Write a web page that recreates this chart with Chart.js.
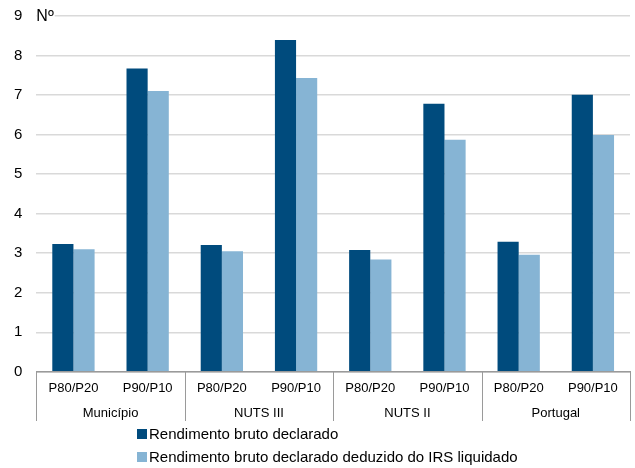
<!DOCTYPE html>
<html>
<head>
<meta charset="utf-8">
<script src="https://cdn.jsdelivr.net/npm/chart.js@4/dist/chart.umd.min.js"></script>
<style>
  html, body { margin: 0; padding: 0; background: #fff; }
  #wrap { position: relative; width: 635px; height: 468px; }
  #legend { position: absolute; left: 137px; top: 422px; font-family: "Liberation Sans", Arial, sans-serif; font-size: 15px; color: #000; }
  #legend div { height: 23px; line-height: 23px; white-space: nowrap; }
  #legend span.box { display: inline-block; width: 10px; height: 10px; margin-right: 2px; vertical-align: 0px; }
</style>
</head>
<body>
<div id="wrap">
  <canvas id="c" width="635" height="468"></canvas>
  <div id="legend"></div>
</div>
<script>
const categories = ['P80/P20', 'P90/P10', 'P80/P20', 'P90/P10', 'P80/P20', 'P90/P10', 'P80/P20', 'P90/P10'];
const groups = ['Município', 'NUTS III', 'NUTS II', 'Portugal'];
const seriesNames = ['Rendimento bruto declarado', 'Rendimento bruto declarado deduzido do IRS liquidado'];
const brutoValues = [3.23, 7.67, 3.21, 8.39, 3.08, 6.78, 3.29, 7.01];
const liquidoValues = [3.10, 7.10, 3.05, 7.43, 2.84, 5.87, 2.96, 5.99];
const yTicks = [0, 1, 2, 3, 4, 5, 6, 7, 8, 9];
const colors = ['#004B7D', '#86B4D4'];

const FONT = '"Liberation Sans", Arial, sans-serif';

const overlay = {
  id: 'overlay',
  afterDraw(chart) {
    const ctx = chart.ctx;
    const xs = chart.scales.x;
    const x2 = chart.scales.x2;
    const ca = chart.chartArea;
    ctx.save();
    ctx.strokeStyle = '#9a9a9a';
    ctx.lineWidth = 1;
    const n = groups.length;
    for (let k = 0; k <= n; k++) {
      const x = Math.round(xs.left + k * (xs.width / n)) + 0.5;
      ctx.beginPath();
      ctx.moveTo(x, ca.bottom);
      ctx.lineTo(x, x2.bottom);
      ctx.stroke();
    }
    ctx.font = '16px ' + FONT;
    ctx.textBaseline = 'middle';
    ctx.textAlign = 'left';
    const ys = chart.scales.y;
    const yTop = ys.getPixelForValue(9);
    const w = ctx.measureText('Nº').width;
    ctx.fillStyle = '#fff';
    ctx.fillRect(ca.left, yTop - 3, w + 1, 6);
    ctx.fillStyle = '#000';
    ctx.fillText('Nº', ca.left, yTop + 1);
    ctx.restore();
  }
};

const chart = new Chart(document.getElementById('c'), {
  type: 'bar',
  data: {
    labels: categories,
    datasets: [
      { label: seriesNames[0], data: brutoValues, backgroundColor: colors[0], borderWidth: 0 },
      { label: seriesNames[1], data: liquidoValues, backgroundColor: colors[1], borderWidth: 0 }
    ]
  },
  options: {
    responsive: false,
    animation: false,
    devicePixelRatio: 1,
    layout: { padding: { left: 0, right: 5, top: 16, bottom: 47 } },
    plugins: {
      legend: { display: false },
      tooltip: { enabled: false }
    },
    datasets: { bar: { categoryPercentage: 0.57, barPercentage: 1.0 } },
    scales: {
      x: {
        type: 'category',
        grid: { display: false, drawTicks: false, tickLength: 0 },
        border: { display: true, color: '#9a9a9a', width: 1.5 },
        ticks: { color: '#000', font: { family: FONT, size: 13 }, padding: 9, maxRotation: 0, autoSkip: false }
      },
      x2: {
        type: 'category',
        labels: groups,
        position: 'bottom',
        offset: true,
        grid: { display: false, drawTicks: false, tickLength: 0 },
        border: { display: false },
        ticks: { color: '#000', font: { family: FONT, size: 13 }, padding: 0, maxRotation: 0, autoSkip: false }
      },
      y: {
        min: 0,
        max: 9,
        afterBuildTicks(scale) { scale.ticks = yTicks.map(v => ({ value: v })); },
        afterFit(scale) { scale.paddingTop = 0; scale.paddingBottom = 0; },
        grid: { color: '#d9d9d9', lineWidth: 1.5, drawTicks: false },
        border: { display: false },
        ticks: { color: '#000', font: { family: FONT, size: 15 }, padding: 14 }
      }
    }
  },
  plugins: [overlay]
});

const legend = document.getElementById('legend');
chart.data.datasets.forEach(ds => {
  const row = document.createElement('div');
  const box = document.createElement('span');
  box.className = 'box';
  box.style.background = ds.backgroundColor;
  row.appendChild(box);
  row.appendChild(document.createTextNode(ds.label));
  legend.appendChild(row);
});
</script>
</body>
</html>
